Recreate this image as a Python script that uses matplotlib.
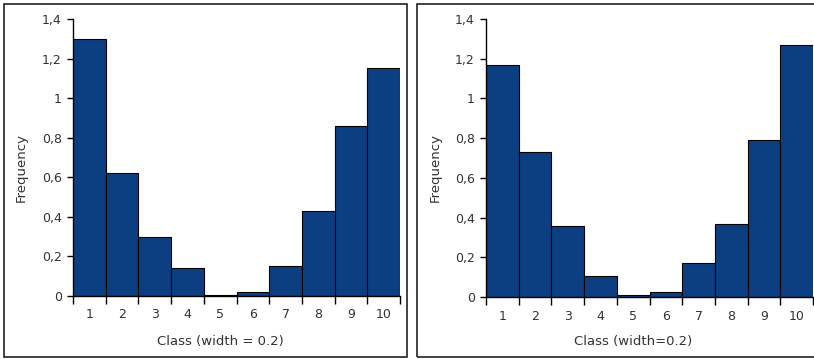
import matplotlib.pyplot as plt
from matplotlib.patches import Rectangle

plt.rcParams['font.family'] = ['DejaVu Sans']

classes = [1, 2, 3, 4, 5, 6, 7, 8, 9, 10]
freq_left = [1.30, 0.62, 0.30, 0.14, 0.005, 0.02, 0.15, 0.43, 0.86, 1.15]
freq_right = [1.17, 0.73, 0.36, 0.107, 0.012, 0.025, 0.17, 0.37, 0.79, 1.27]
y_ticks = [0, 0.2, 0.4, 0.6, 0.8, 1.0, 1.2, 1.4]
y_labels = ['0', '0,2', '0,4', '0,6', '0,8', '1', '1,2', '1,4']
xlabel_left = 'Class (width = 0.2)'
xlabel_right = 'Class (width=0.2)'

W, H = 814, 359
bar_color = '#0b3f82'
text_color = '#333333'

fig = plt.figure(figsize=(W / 100, H / 100), dpi=100)


def px_axes(x0, x1, ytop, y0):
    return fig.add_axes([x0 / W, (H - y0) / H, (x1 - x0) / W, (y0 - ytop) / H])


def draw_panel(ax, values, xlabel, label_cx, freq_x):
    ax.bar(classes, values, width=1.0, color=bar_color, edgecolor='black', linewidth=0.8)
    ax.set_xlim(0.5, 10.5)
    ax.set_ylim(0, 1.4)
    for s in ['top', 'right']:
        ax.spines[s].set_visible(False)
    for s in ['left', 'bottom']:
        ax.spines[s].set_linewidth(1.0)
    ax.set_yticks(y_ticks)
    ax.set_yticklabels(y_labels)
    edges = [c - 0.5 for c in classes] + [classes[-1] + 0.5]
    ax.set_xticks(edges)
    ax.set_xticklabels([])
    ax.set_xticks(classes, minor=True)
    ax.set_xticklabels([str(c) for c in classes], minor=True)
    ax.tick_params(axis='x', which='major', length=6, width=1, direction='out')
    ax.tick_params(axis='x', which='minor', length=0, pad=9, labelsize=9, labelcolor=text_color)
    ax.tick_params(axis='y', length=4, width=1, pad=4, labelsize=9, labelcolor=text_color)
    fig.text(label_cx / W, (H - 341) / H, xlabel, ha='center', va='center',
             fontsize=9.5, color=text_color)
    fig.text(freq_x / W, (H - 168) / H, 'Frequency', ha='center', va='center',
             rotation=90, fontsize=9.5, color=text_color)


ax1 = px_axes(73, 400, 19, 296)
draw_panel(ax1, freq_left, xlabel_left, 220, 21)

ax2 = px_axes(486, 813, 19, 297)
draw_panel(ax2, freq_right, xlabel_right, 633, 435)

# panel frames
fig.patches.append(Rectangle((4 / W, 2 / H), 403 / W, 353 / H, transform=fig.transFigure,
                             fill=False, edgecolor='#222222', linewidth=1.2))
fig.patches.append(Rectangle((417 / W, 2 / H), 420 / W, 353 / H, transform=fig.transFigure,
                             fill=False, edgecolor='#222222', linewidth=1.2))

fig.savefig('out.png', dpi=100)
